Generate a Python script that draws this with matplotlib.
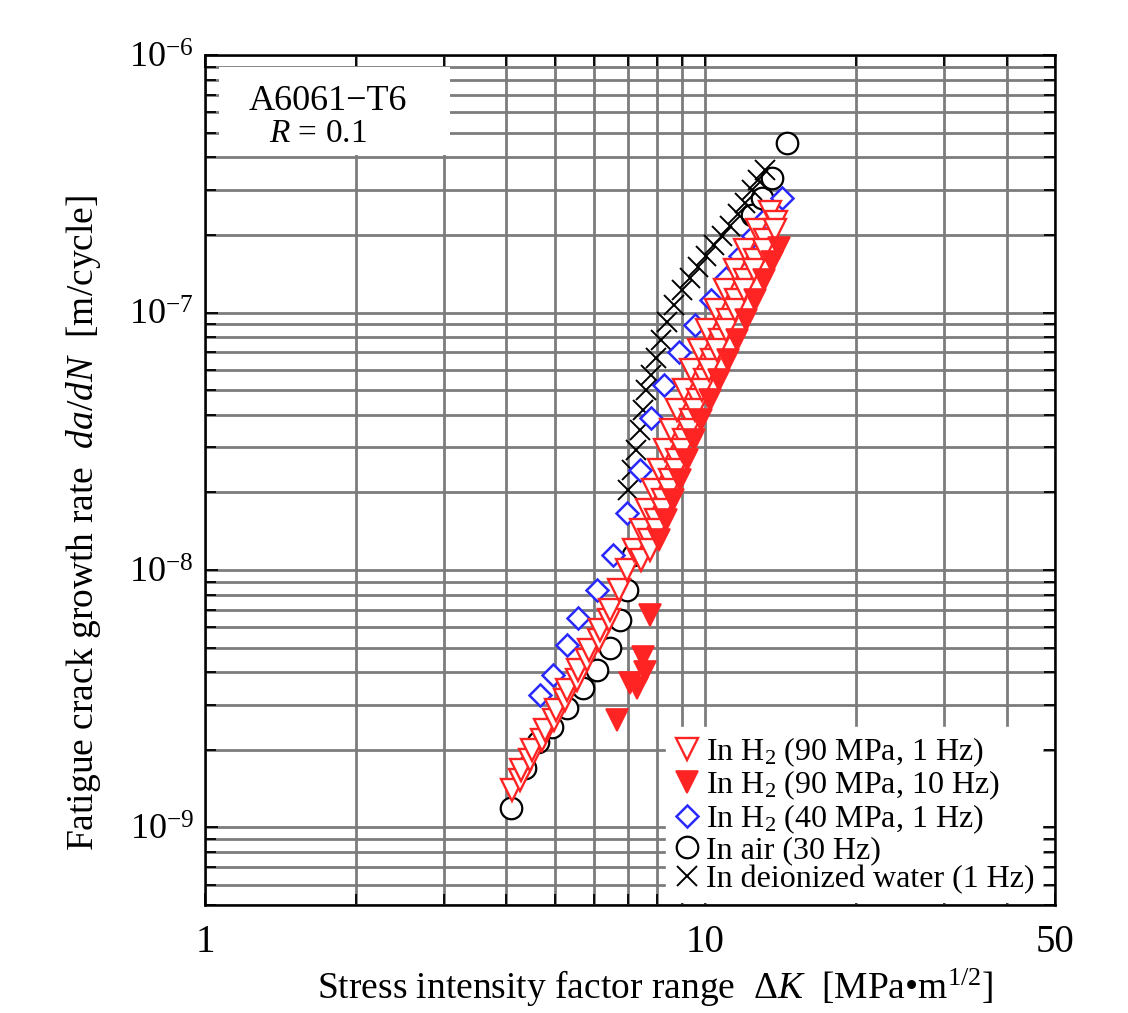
import matplotlib
matplotlib.use('Agg')
import matplotlib.pyplot as plt
from matplotlib.patches import Rectangle
from matplotlib.ticker import (FixedLocator, FixedFormatter, LogLocator, NullFormatter,
                               LogFormatterMathtext)

plt.rcParams['font.family'] = ['Liberation Serif', 'DejaVu Serif']
plt.rcParams['mathtext.fontset'] = 'custom'
plt.rcParams['mathtext.rm'] = 'Liberation Serif'
plt.rcParams['mathtext.it'] = 'Liberation Serif:italic'
plt.rcParams['mathtext.bf'] = 'Liberation Serif:bold'

# In H2 (90 MPa, 1 Hz) - open triangles
h2_90_1hz_dk = [4.11, 4.27, 4.29, 4.47, 4.51, 4.72, 4.79, 4.98, 5.04, 5.25, 5.30, 5.53,
                5.57, 5.81, 5.86, 6.12, 6.17, 6.43, 6.46, 6.73, 6.98, 7.21, 7.45, 7.66,
                7.87, 8.09, 8.32, 8.55, 8.79, 9.08, 9.38, 9.72, 10.09, 10.52, 10.96,
                11.48, 12.02, 12.71, 13.49,
                7.45, 7.73, 7.98, 8.24, 8.51, 8.79, 9.08, 9.38, 9.68, 10.0, 10.33,
                10.72, 11.12, 11.53, 12.02, 12.59, 13.18, 13.87,
                7.76, 8.02, 8.24, 8.47, 8.75, 8.99, 9.29, 9.55, 9.86, 10.19, 10.57,
                11.02, 11.48, 11.97, 12.53, 13.12, 13.80]
h2_90_1hz_rate = [1.40e-9, 1.53e-9, 1.67e-9, 1.83e-9, 2.00e-9, 2.19e-9, 2.39e-9, 2.61e-9,
                  2.86e-9, 3.13e-9, 3.42e-9, 3.74e-9, 4.09e-9, 4.47e-9, 4.89e-9, 5.35e-9,
                  5.85e-9, 6.39e-9, 7.00e-9, 8.36e-9, 1.00e-8, 1.20e-8, 1.43e-8, 1.71e-8,
                  2.05e-8, 2.45e-8, 2.93e-8, 3.50e-8, 4.18e-8, 5.00e-8, 5.98e-8, 7.15e-8,
                  8.55e-8, 1.02e-7, 1.22e-7, 1.46e-7, 1.75e-7, 2.09e-7, 2.46e-7,
                  1.09e-8, 1.31e-8, 1.56e-8, 1.87e-8, 2.24e-8, 2.68e-8, 3.20e-8, 3.83e-8,
                  4.57e-8, 5.47e-8, 6.54e-8, 7.82e-8, 9.35e-8, 1.12e-7, 1.34e-7, 1.60e-7,
                  1.91e-7, 2.25e-7,
                  1.20e-8, 1.43e-8, 1.71e-8, 2.05e-8, 2.45e-8, 2.93e-8, 3.50e-8, 4.18e-8,
                  5.00e-8, 5.98e-8, 7.15e-8, 8.55e-8, 1.02e-7, 1.22e-7, 1.46e-7, 1.75e-7,
                  2.09e-7]

# In H2 (90 MPa, 10 Hz) - filled triangles
h2_90_10hz_dk = [6.67, 7.08, 7.31, 7.59, 7.52, 7.76, 8.09, 8.36, 8.63, 8.91, 9.20, 9.51,
                 9.82, 10.23, 10.67, 11.12, 11.59, 12.08, 12.59, 13.12, 13.61, 14.06]
h2_90_10hz_rate = [2.61e-9, 3.64e-9, 3.48e-9, 4.02e-9, 4.59e-9, 6.69e-9, 1.31e-8, 1.56e-8,
                   1.87e-8, 2.24e-8, 2.68e-8, 3.20e-8, 3.83e-8, 4.57e-8, 5.47e-8, 6.54e-8,
                   7.82e-8, 9.35e-8, 1.12e-7, 1.34e-7, 1.57e-7, 1.78e-7]

# In H2 (40 MPa, 1 Hz) - diamonds
h2_40_1hz_dk = [4.68, 4.97, 5.30, 5.57, 6.08, 6.55, 6.98, 7.41, 7.80, 8.28, 8.87, 9.55,
                10.28, 11.02, 11.75, 12.47, 13.24, 14.26]
h2_40_1hz_rate = [3.27e-9, 3.90e-9, 5.12e-9, 6.50e-9, 8.35e-9, 1.14e-8, 1.67e-8, 2.45e-8,
                  3.89e-8, 5.23e-8, 7.03e-8, 8.94e-8, 1.12e-7, 1.36e-7, 1.66e-7, 1.98e-7,
                  2.33e-7, 2.78e-7]

# In air (30 Hz) - circles (only the visible ones)
air_dk = [4.09, 4.37, 4.63, 4.94, 5.30, 5.70, 6.08, 6.46, 6.76, 6.98, 7.18,
          12.42, 13.0, 13.61, 14.59]
air_rate = [1.19e-9, 1.70e-9, 2.15e-9, 2.46e-9, 2.91e-9, 3.48e-9, 4.09e-9, 4.98e-9,
            6.39e-9, 8.35e-9, 1.14e-8,
            2.39e-7, 2.78e-7, 3.33e-7, 4.55e-7]

# In deionized water (1 Hz) - crosses
water_dk = [7.01, 7.14, 7.28, 7.41, 7.52, 7.62, 7.80, 7.98, 8.17, 8.39, 8.67, 8.99, 9.33,
            9.68, 10.05, 10.42, 10.81, 11.22, 11.64, 12.02, 12.42, 12.76, 13.18]
water_rate = [2.05e-8, 2.45e-8, 2.93e-8, 3.50e-8, 4.18e-8, 5.00e-8, 5.72e-8, 6.65e-8,
              7.82e-8, 9.19e-8, 1.07e-7, 1.22e-7, 1.36e-7, 1.50e-7, 1.66e-7, 1.83e-7,
              1.98e-7, 2.17e-7, 2.41e-7, 2.66e-7, 2.99e-7, 3.27e-7, 3.58e-7]

x_major = [1, 10, 50]
x_major_labels = ['1', '10', '50']
y_major = [1e-9, 1e-8, 1e-7, 1e-6]

red = '#ff2424'
blue = '#2828ff'

fig = plt.figure(figsize=(11.28, 10.13), dpi=100)
ax = fig.add_axes([0.1817, 0.1066, 0.7536, 0.8391])
ax.set_xscale('log')
ax.set_yscale('log')
ax.set_xlim(1, 50)
ax.set_ylim(5e-10, 1e-6)

ax.set_axisbelow(True)
ax.grid(True, which='both', color='#7c7c7c', lw=2.0)

ax.xaxis.set_major_locator(FixedLocator(x_major))
ax.xaxis.set_major_formatter(FixedFormatter(x_major_labels))
ax.xaxis.set_minor_locator(LogLocator(base=10, subs=[2, 3, 4, 5, 6, 7, 8, 9]))
ax.xaxis.set_minor_formatter(NullFormatter())
ax.yaxis.set_major_locator(FixedLocator(y_major))
ax.yaxis.set_major_formatter(LogFormatterMathtext())
ax.yaxis.set_minor_locator(LogLocator(base=10, subs=[2, 3, 4, 5, 6, 7, 8, 9], numticks=20))
ax.yaxis.set_minor_formatter(NullFormatter())

ax.tick_params(which='both', direction='in', top=True, right=True, color='black')
ax.tick_params(which='major', length=9, width=1.3)
ax.tick_params(which='minor', length=8, width=1.3)
ax.tick_params(axis='y', labelsize=26, pad=8)
ax.tick_params(axis='x', labelsize=28, pad=14)
for s in ax.spines.values():
    s.set_linewidth(1.8)

ax.plot(air_dk, air_rate, ls='none', marker='o', ms=15.5, mew=1.6, mfc='white',
        mec='black', zorder=3, label='In air (30 Hz)')
ax.plot(water_dk, water_rate, ls='none', marker='x', ms=15, mew=1.4, color='black',
        zorder=4, label='In deionized water (1 Hz)')
ax.plot(h2_40_1hz_dk, h2_40_1hz_rate, ls='none', marker='D', ms=11.5, mew=1.8,
        mfc='white', mec=blue, zorder=5, label='In H$_2$ (40 MPa, 1 Hz)')
ax.plot(h2_90_1hz_dk, h2_90_1hz_rate, ls='none', marker='v', ms=16.5, mew=1.7,
        mfc='white', mec=red, zorder=6, label='In H$_2$ (90 MPa, 1 Hz)')
ax.plot(h2_90_10hz_dk, h2_90_10hz_rate, ls='none', marker='v', ms=16.5, mew=1.2,
        color=red, zorder=7, label='In H$_2$ (90 MPa, 10 Hz)')

# white box behind the material label
ax.add_patch(Rectangle((0.016, 0.882), 0.272, 0.104, transform=ax.transAxes,
                       facecolor='white', edgecolor='none', zorder=1))
ax.text(0.145, 0.945, 'A6061\u2212T6', transform=ax.transAxes, ha='center', va='center',
        fontsize=26, zorder=2)
ax.text(0.133, 0.907, '$R$ = 0.1', transform=ax.transAxes, ha='center', va='center',
        fontsize=24, zorder=2)

handles, labels = ax.get_legend_handles_labels()
order = [3, 4, 2, 0, 1]
leg = ax.legend([handles[i] for i in order], [labels[i] for i in order],
                loc='lower right', bbox_to_anchor=(0.985, 0.003), borderaxespad=0,
                fontsize=23, frameon=True, fancybox=False, edgecolor='white',
                facecolor='white', framealpha=1, handlelength=0.8, handletextpad=0.2,
                labelspacing=0.0, borderpad=0.25)
leg.set_zorder(10)

ax.set_xlabel('Stress intensity factor range  \u0394$K$  [MPa\u2022m$^{1/2}$]',
              fontsize=27)
ax.xaxis.label.set_va('baseline')
ax.xaxis.set_label_coords(0.529, -0.11)
ax.set_ylabel('Fatigue crack growth rate  $da/dN$  [m/cycle]', fontsize=27)
ax.yaxis.label.set_va('center')
ax.yaxis.set_label_coords(-0.143, 0.45)

fig.savefig('out.png', dpi=100)
